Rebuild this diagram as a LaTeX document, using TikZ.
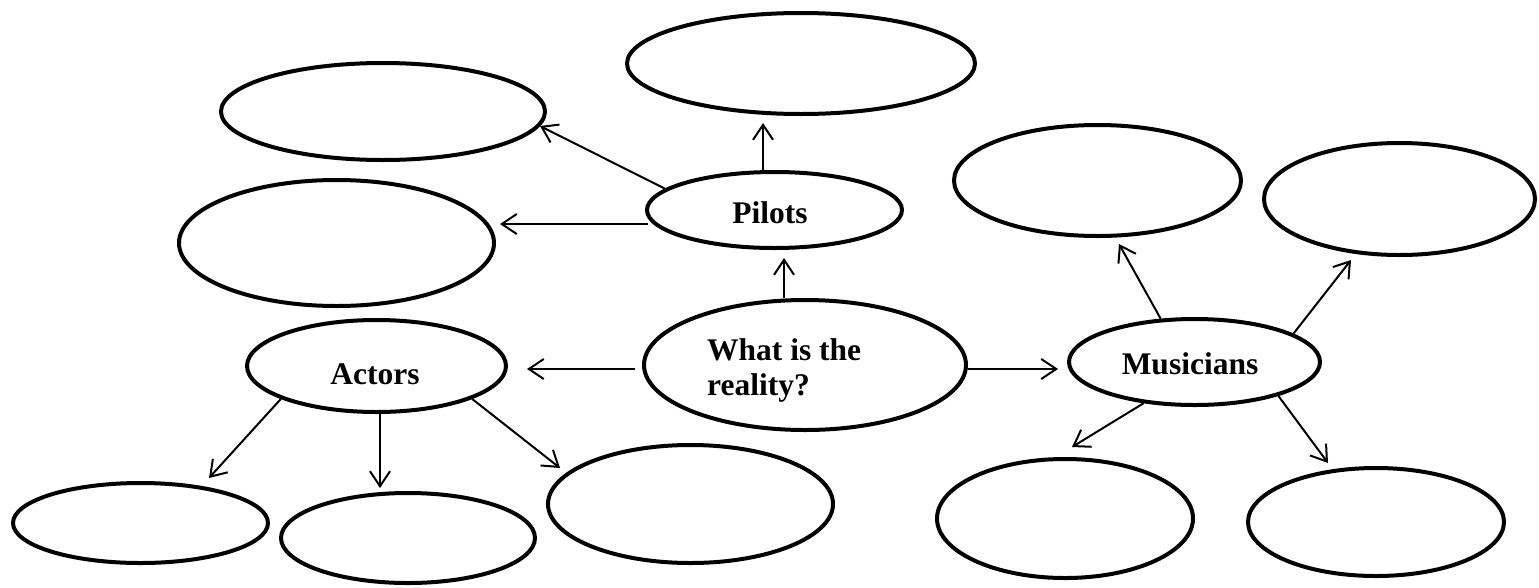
\documentclass[tikz,border=0pt]{standalone}
\usepackage{fontspec}
\setmainfont{Liberation Serif}
\usetikzlibrary{shapes.geometric,arrows.meta}
\begin{document}
\begin{tikzpicture}[x=1pt,y=-1pt,
  oval/.style={draw,ellipse,line width=4pt,inner sep=0pt},
  lbl/.style={font=\fontsize{31.5}{35}\selectfont\bfseries,inner sep=0pt,anchor=base},
  arr/.style={line width=2pt,-{Straight Barb[length=15pt,width=20pt,line width=2pt]}}]
\useasboundingbox (0,0) rectangle (1539,587);
% ellipses
\node[oval,minimum width=324,minimum height=97] (tl) at (383,111.5) {};
\node[oval,minimum width=315,minimum height=126] (ml) at (336.5,243) {};
\node[oval,minimum width=348,minimum height=101] (tc) at (801,63.5) {};
\node[oval,minimum width=255,minimum height=76] (pilots) at (774.5,210) {};
\node[oval,minimum width=322,minimum height=130] (ctr) at (805,365) {};
\node[oval,minimum width=259,minimum height=92] (actors) at (376.5,366) {};
\node[oval,minimum width=251,minimum height=86] (mus) at (1194.5,362) {};
\node[oval,minimum width=287,minimum height=111] (rt1) at (1097.5,180.5) {};
\node[oval,minimum width=271,minimum height=112] (rt2) at (1399.5,199) {};
\node[oval,minimum width=256,minimum height=119] (rb1) at (1065,518.5) {};
\node[oval,minimum width=256,minimum height=108] (rb2) at (1376,522) {};
\node[oval,minimum width=255,minimum height=80] (ab1) at (140.5,523) {};
\node[oval,minimum width=254,minimum height=90] (ab2) at (408,538) {};
\node[oval,minimum width=285,minimum height=118] (ab3) at (690.5,504) {};
% labels
\node[lbl] (tpilots) at (770,223) {Pilots};
\node[lbl] (tactors) at (375,384) {Actors};
\node[lbl] (tmus) at (1190,374) {Musicians};
\node[lbl,anchor=base west] (tq1) at (707,360) {What is the};
\node[lbl,anchor=base west] (tq2) at (707,395) {reality?};
% arrow tips
\coordinate (pTop) at (763,123);
\coordinate (pDiag) at (540,126);
\coordinate (pLeft) at (500,224);
\coordinate (cTop) at (784,258);
\coordinate (cLeft) at (527,369);
\coordinate (cRight) at (1058,369);
\coordinate (mUL) at (1119,244);
\coordinate (mUR) at (1351,260);
\coordinate (mDL) at (1072,447);
\coordinate (mDR) at (1328,463);
\coordinate (aL) at (209,478);
\coordinate (aM) at (380,488);
\coordinate (aR) at (560,468);
% connectors
\draw[arr] (pilots.north -| pTop) -- (pTop);
\draw[arr] (pilots.169.7) -- (pDiag);
\draw[arr] (pilots.west |- pLeft) ++(3,0) -- (pLeft);
\draw[arr] (ctr.north -| cTop) -- (cTop);
\draw[arr] (ctr.west |- cLeft) ++(-7,0) -- (cLeft);
\draw[arr] (ctr.east |- cRight) -- (cRight);
\draw[arr] (mus.128.7) -- (mUL);
\draw[arr] (mus.16.5) -- (mUR);
\draw[arr] (mus.219.2) -- (mDL);
\draw[arr] (mus.338.4) -- (mDR);
\draw[arr] (actors.199.9) -- (aL);
\draw[arr] (actors.south -| aM) -- (aM);
\draw[arr] (actors.341.7) -- (aR);
\end{tikzpicture}
\end{document}
